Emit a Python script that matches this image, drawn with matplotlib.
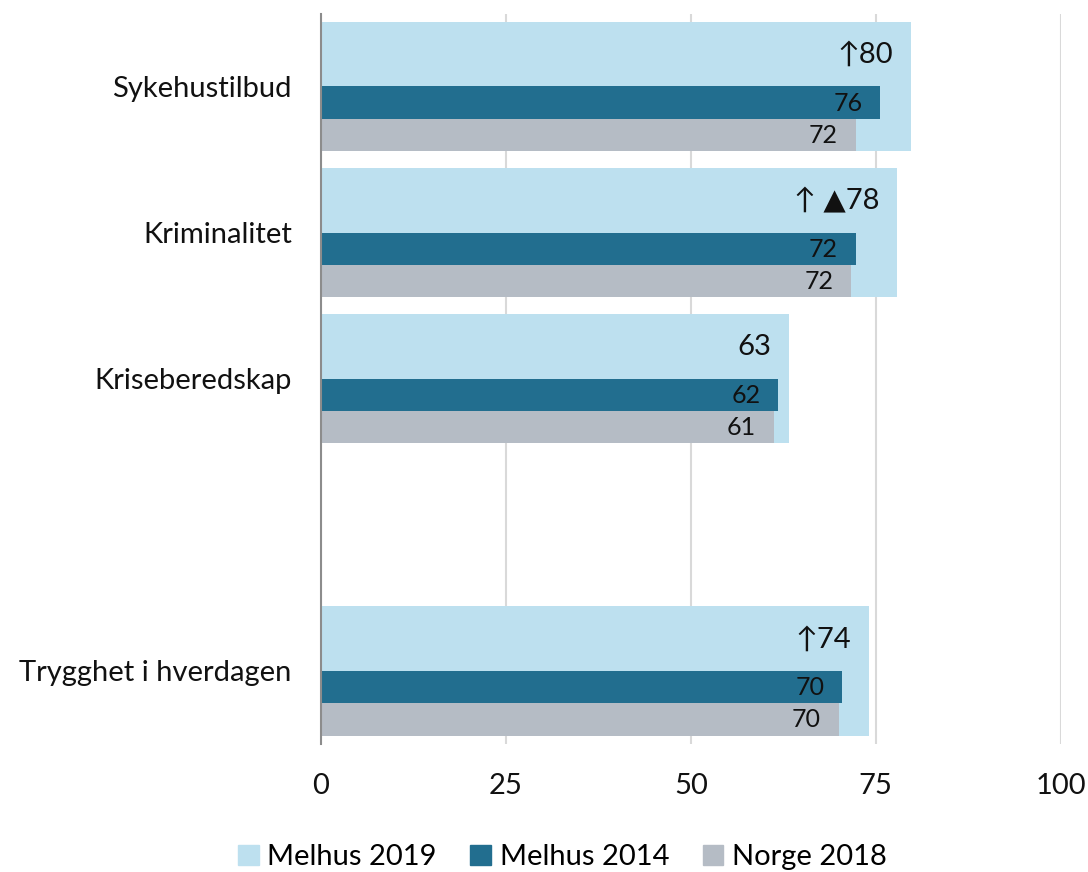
import numpy as np
import matplotlib.pyplot as plt
from matplotlib.patches import Patch

plt.rcParams['font.family'] = ['Lato', 'DejaVu Sans']

# data
categories = ['Sykehustilbud', 'Kriminalitet', 'Kriseberedskap', '', 'Trygghet i hverdagen']
melhus_2019 = [79.8, 77.9, 63.3, np.nan, 74.1]
melhus_2014 = [75.6, 72.3, 61.8, np.nan, 70.5]
norge_2018 = [72.3, 71.7, 61.2, np.nan, 70.0]
labels_2019 = ['\u219180', '\u2191 \u25B278', '63', '', '\u219174']
labels_2014 = ['76', '72', '62', '', '70']
labels_2018 = ['72', '72', '61', '', '70']
series_names = ['Melhus 2019', 'Melhus 2014', 'Norge 2018']

c_light = '#BDE0EF'
c_dark = '#226E8F'
c_gray = '#B5BCC5'

fig = plt.figure(figsize=(10.88, 8.72), dpi=100)
ax = fig.add_axes([0.295, 0.1468, 0.6798, 0.8377])

y = np.arange(len(categories))
ax.barh(y, melhus_2019, height=0.884, color=c_light, zorder=2)
ax.barh(y + 0.11, melhus_2014, height=0.222, color=c_dark, zorder=3)
ax.barh(y + 0.332, norge_2018, height=0.22, color=c_gray, zorder=3)

pad = 2.4
for i in range(len(categories)):
    if np.isnan(melhus_2019[i]):
        continue
    ax.text(melhus_2019[i] - pad, y[i] - 0.215, labels_2019[i], ha='right', va='center',
            fontsize=21, color='#111111', zorder=4)
    ax.text(melhus_2014[i] - pad, y[i] + 0.115, labels_2014[i], ha='right', va='center',
            fontsize=18, color='#111111', zorder=4)
    ax.text(norge_2018[i] - pad, y[i] + 0.335, labels_2018[i], ha='right', va='center',
            fontsize=18, color='#111111', zorder=4)

ax.set_xlim(0, 100)
ax.set_ylim(4.5, -0.5)
ax.set_xticks([0, 25, 50, 75, 100])
ax.set_yticks(y)
ax.set_yticklabels(categories)
ax.tick_params(axis='both', length=0, labelsize=21, colors='#111111')
ax.tick_params(axis='y', pad=21)
ax.tick_params(axis='x', pad=21)
ax.xaxis.grid(True, color='#D9D9D9', lw=1.5, zorder=0)
for s in ['top', 'right', 'bottom']:
    ax.spines[s].set_visible(False)
ax.spines['left'].set_color('#8C8C8C')
ax.spines['left'].set_linewidth(1.5)
ax.spines['left'].set_zorder(5)

handles = [Patch(color=c) for c in [c_light, c_dark, c_gray]]
fig.legend(handles, series_names, loc='center', bbox_to_anchor=(0.517, 0.017), ncol=3,
           frameon=False, fontsize=21, handlelength=0.7, handleheight=0.7,
           handletextpad=0.3, columnspacing=1.15, borderaxespad=0)

fig.savefig('out.png', dpi=100)
